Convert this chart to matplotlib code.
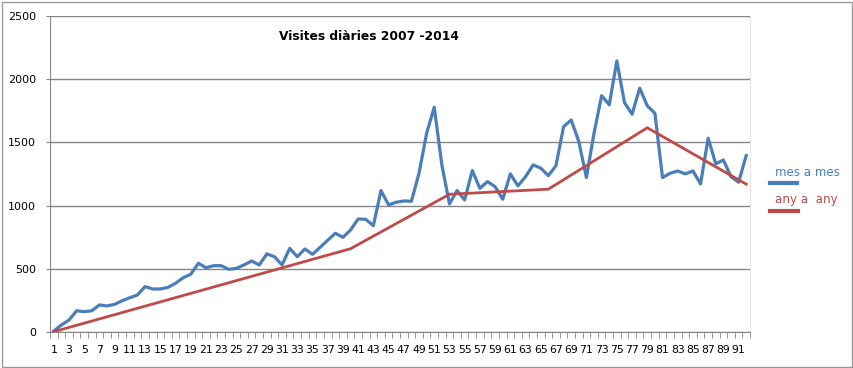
import numpy as np
import matplotlib
matplotlib.use('Agg')
import matplotlib.pyplot as plt
from matplotlib.lines import Line2D
from matplotlib.patches import Rectangle

## ---------------------- DATA -------------------------------
months = np.arange(1, 93)
mes_a_mes = [10, 58, 97, 170, 163, 170, 216, 208, 221, 250,
             273, 295, 361, 342, 342, 355, 387, 431, 458, 545,
             510, 526, 526, 497, 505, 532, 563, 532, 619, 597,
             532, 663, 597, 658, 616, 671, 727, 782, 750, 808,
             895, 892, 842, 1119, 1006, 1027, 1037, 1035, 1256, 1572,
             1777, 1322, 1014, 1119, 1045, 1277, 1137, 1190, 1150, 1051,
             1251, 1156, 1229, 1322, 1296, 1237, 1316, 1624, 1677, 1506,
             1222, 1572, 1869, 1796, 2143, 1814, 1722, 1928, 1788, 1730,
             1222, 1256, 1274, 1251, 1274, 1172, 1533, 1330, 1361, 1229,
             1185, 1395]
any_x = [1, 40, 53, 66, 79, 92]
any_a_any = [5, 660, 1090, 1130, 1615, 1170]

title = 'Visites diàries 2007 -2014'
blue = '#4a7ebb'
red = '#be4b48'

## ---------------------- PLOTTING -------------------------------
plt.rcParams['font.family'] = ['DejaVu Sans']
fig = plt.figure(figsize=(8.54, 3.68), dpi=100)
ax = fig.add_axes([50 / 854, 1 - 332.3 / 368, 700 / 854, (332.3 - 15.7) / 368])

ax.plot(months, mes_a_mes, color=blue, lw=2.3, solid_joinstyle='round', zorder=3)
ax.plot(any_x, any_a_any, color=red, lw=2.0, solid_joinstyle='round', zorder=3)

ax.set_xlim(0.5, 92.5)
ax.set_ylim(0, 2500)
ax.set_yticks(range(0, 2501, 500))
ax.yaxis.grid(True, color='#868686', lw=1)
ax.set_axisbelow(True)
ax.set_xticks(range(1, 92, 2))
ax.set_xticks(np.arange(0.5, 93, 1), minor=True)
ax.tick_params(axis='x', which='major', length=0, pad=9, labelsize=7.8)
ax.tick_params(axis='x', which='minor', length=4, color='#868686', direction='out')
ax.tick_params(axis='y', length=3, color='#868686', pad=7, labelsize=8)

for s in ['left', 'bottom']:
    ax.spines[s].set_color('#868686')
ax.spines['top'].set_visible(False)
ax.spines['right'].set_color('#e6e6e6')

fig.text(279 / 854, 1 - 36 / 368, title, fontsize=8.8, fontweight='bold', va='center', ha='left')

# legend drawn by hand on the right
fig.text(807 / 854, 1 - 173 / 368, 'mes a mes', color=blue, fontsize=8.6, ha='center', va='center')
fig.add_artist(Line2D([770 / 854, 797 / 854], [1 - 183 / 368] * 2, color=blue, lw=3))
fig.text(806 / 854, 1 - 200 / 368, 'any a  any', color=red, fontsize=8.6, ha='center', va='center')
fig.add_artist(Line2D([770 / 854, 798 / 854], [1 - 211 / 368] * 2, color=red, lw=3))

# outer chart border
fig.add_artist(Rectangle((2 / 854, 1 / 368), 850 / 854, 365 / 368, transform=fig.transFigure,
                         fill=False, edgecolor='#9a9a9a', lw=1))

fig.savefig('out.png', dpi=100)
